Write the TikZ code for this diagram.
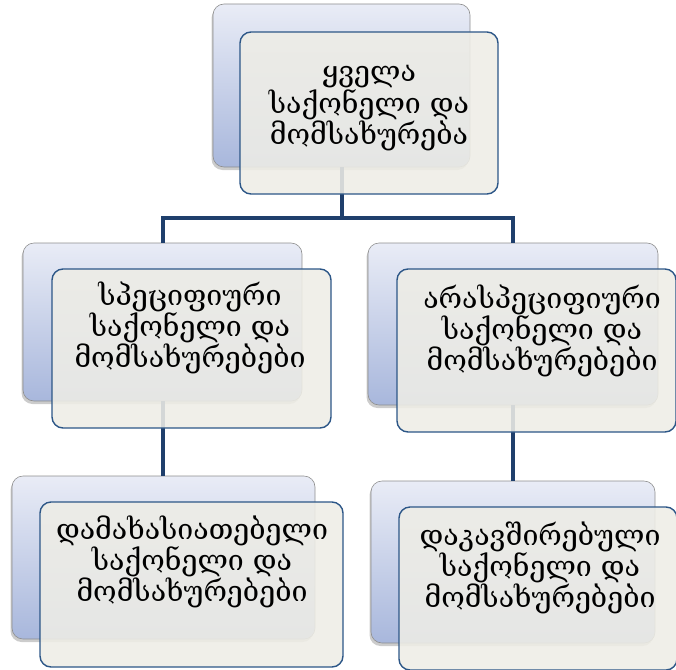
\documentclass[tikz,border=0pt]{standalone}
\usepackage{fontspec}
\newfontfamily\geofont{DejaVu Serif}
\usetikzlibrary{shadows}
\definecolor{backtop}{HTML}{E9ECF6}
\definecolor{backbottom}{HTML}{A8B7DC}
\definecolor{backline}{HTML}{8E8E8E}
\definecolor{frontfill}{HTML}{EEEDE6}
\definecolor{frontline}{HTML}{2C5687}
\definecolor{linkline}{HTML}{1F3F6C}
\begin{document}
\begin{tikzpicture}[x=1pt, y=-1pt, thick]
                \tikzstyle{backbox}=[rectangle, rounded corners=11pt, draw=backline, line width=0.6pt, top color=backtop, bottom color=backbottom, drop shadow={shadow xshift=-1.5pt, shadow yshift=-3pt, opacity=0.4}]
                \tikzstyle{frontbox}=[rectangle, rounded corners=11pt, draw=frontline, line width=1.4pt, fill=frontfill, fill opacity=0.88]
                \tikzstyle{caption}=[align=center, inner sep=0pt, font=\geofont\fontsize{28.5}{30}\selectfont]
                \tikzstyle{link}=[draw=linkline, line width=4pt]

                \useasboundingbox (0,0) rectangle (676,669);

                \node[backbox, minimum width=257pt, minimum height=163pt] (b0) at (341.5, 85.5) {};
                \node[backbox, minimum width=279pt, minimum height=158pt] (b1) at (162.5, 322) {};
                \node[backbox, minimum width=290pt, minimum height=162pt] (b2) at (513, 324) {};
                \node[backbox, minimum width=303pt, minimum height=163pt] (b3) at (163.5, 557.5) {};
                \node[backbox, minimum width=284pt, minimum height=162pt] (b4) at (513, 562) {};

                \coordinate (j) at (341.5, 218);
                \path[link] (b0.south) -- (j);
                \path[link] (b1.north) |- (j) -| (b2.north);
                \path[link] (b1.south) -- (b1.south |- b3.north);
                \path[link] (b2.south) -- (b2.south |- b4.north);

                \node[frontbox, minimum width=258pt, minimum height=162pt] (f0) at (369, 113) {};
                \node[frontbox, minimum width=279pt, minimum height=159pt] (f1) at (191.5, 348.5) {};
                \node[frontbox, minimum width=279pt, minimum height=163pt] (f2) at (536.5, 350.5) {};
                \node[frontbox, minimum width=303pt, minimum height=165pt] (f3) at (191.5, 584.5) {};
                \node[frontbox, minimum width=278pt, minimum height=163pt] (f4) at (538, 588.5) {};

                \node[caption] (t0) at (369, 108) {ყველა\\საქონელი და\\მომსახურება};
                \node[caption] (t1) at (190, 328) {სპეციფიური\\საქონელი და\\მომსახურებები};
                \node[caption] (t2) at (542, 331) {არასპეციფიური\\საქონელი და\\მომსახურებები};
                \node[caption] (t3) at (192, 562) {დამახასიათებელი\\საქონელი და\\მომსახურებები};
                \node[caption] (t4) at (540, 568) {დაკავშირებული\\საქონელი და\\მომსახურებები};
            \end{tikzpicture}
\end{document}
